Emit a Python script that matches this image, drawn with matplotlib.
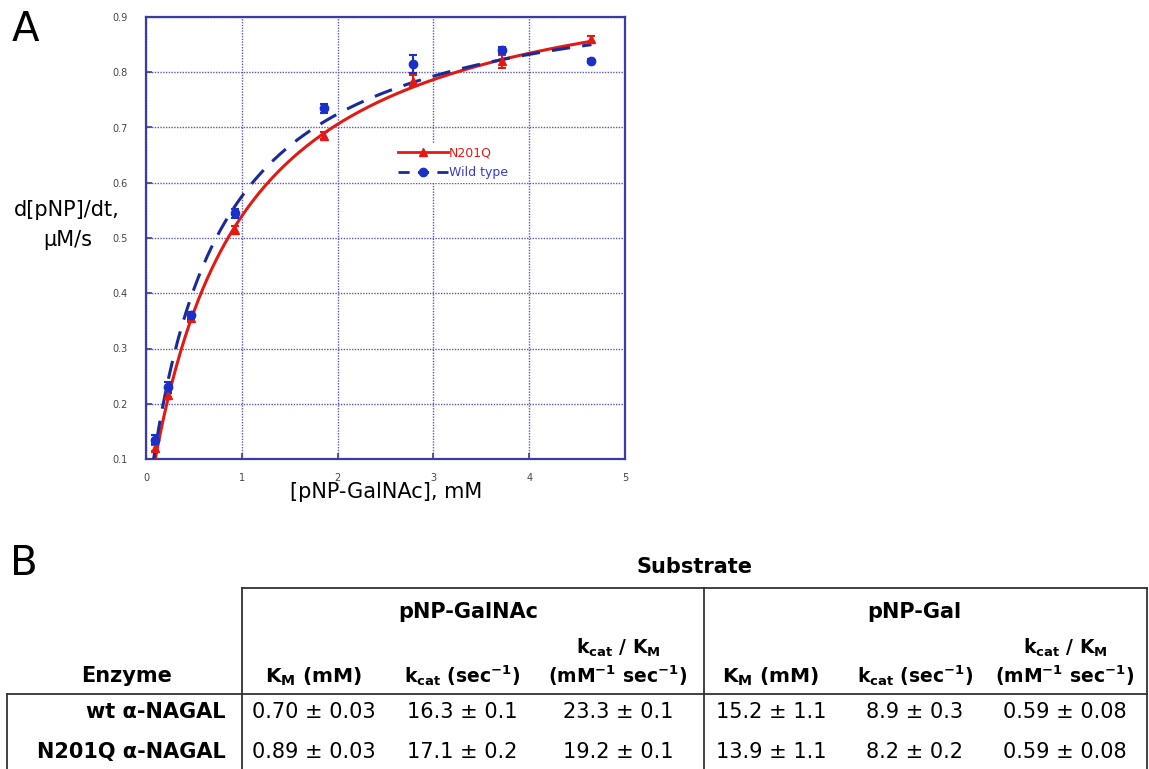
import numpy as np
import matplotlib
matplotlib.use("Agg")
import matplotlib.pyplot as plt
from matplotlib.lines import Line2D

plt.rcParams["font.family"] = ["DejaVu Sans"]
plt.rcParams["mathtext.fontset"] = "dejavusans"

# ---------------------------------------------------------------- data ---
conc = [0.093, 0.233, 0.465, 0.93, 1.86, 2.79, 3.72, 4.65]          # mM
rate_n201q = [0.120, 0.215, 0.355, 0.515, 0.685, 0.785, 0.820, 0.860]
err_n201q = [0.006, 0.006, 0.005, 0.006, 0.006, 0.010, 0.012, 0.005]
rate_wt = [0.135, 0.230, 0.360, 0.545, 0.735, 0.815, 0.840, 0.820]
err_wt = [0.008, 0.010, 0.006, 0.008, 0.008, 0.016, 0.005, 0.004]

# Michaelis-Menten fit parameters (Km from table B, Vmax in uM/s)
km_n201q, vmax_n201q = 0.89, 1.02
km_wt, vmax_wt = 0.70, 0.978

series_names = ["N201Q", "Wild type"]

enzymes = ["wt \u03b1-NAGAL", "N201Q \u03b1-NAGAL"]
substrates = ["pNP-GalNAc", "pNP-Gal"]
head_km = r"$\mathbf{K_M}$ (mM)"
head_kcat = r"$\mathbf{k_{cat}}$ (sec$\mathbf{^{-1}}$)"
head_ratio_top = r"$\mathbf{k_{cat}}$ / $\mathbf{K_M}$"
head_ratio_unit = r"(mM$\mathbf{^{-1}}$ sec$\mathbf{^{-1}}$)"
table_vals = [
    ["0.70 \u00b1 0.03", "16.3 \u00b1 0.1", "23.3 \u00b1 0.1",
     "15.2 \u00b1 1.1", "8.9 \u00b1 0.3", "0.59 \u00b1 0.08"],
    ["0.89 \u00b1 0.03", "17.1 \u00b1 0.2", "19.2 \u00b1 0.1",
     "13.9 \u00b1 1.1", "8.2 \u00b1 0.2", "0.59 \u00b1 0.08"],
]

RED = "#e31a14"
BLUE = "#1a30c8"
NAVY = "#1a2a96"
FRAME = "#3c3ca0"

W, H = 1149, 769
fig = plt.figure(figsize=(W / 100, H / 100), dpi=100)


def fx(x):
    return x / W


def fy(y):
    return 1 - y / H


# ---------------------------------------------------------- panel A ---
ax = fig.add_axes([fx(146), fy(459), fx(625) - fx(146), fy(17) - fy(459)])
xs = np.linspace(0.02, 4.65, 300)
ax.plot(xs, vmax_n201q * xs / (km_n201q + xs), color=RED, lw=2.2, zorder=3)
ax.plot(xs, vmax_wt * xs / (km_wt + xs), color=NAVY, lw=2.2,
        dashes=(6, 4), zorder=3)
ax.errorbar(conc, rate_n201q, yerr=err_n201q, fmt="^", color=RED, ms=6,
            capsize=3, elinewidth=1.5, capthick=1.5, zorder=4)
ax.errorbar(conc, rate_wt, yerr=err_wt, fmt="o", color=BLUE, ms=6,
            capsize=3, elinewidth=1.5, capthick=1.5, zorder=4)

ax.set_xlim(0, 5)
ax.set_ylim(0.1, 0.9)
ax.set_xticks(range(6))
ax.set_yticks(np.arange(0.1, 0.91, 0.1))
ax.set_yticklabels([f"{v:.1f}" for v in np.arange(0.1, 0.91, 0.1)])
ax.grid(True, color="#5a5ab0", ls=(0, (1, 1)), lw=1.0)
ax.tick_params(direction="in", length=4, width=1.2, color=FRAME,
               labelsize=7, labelcolor="#444444")
ax.tick_params(axis="y", pad=13)
ax.tick_params(axis="x", pad=10)
for s in ax.spines.values():
    s.set_color(FRAME)
    s.set_linewidth(1.6)

handles = [Line2D([], [], color=RED, lw=2, marker="^", ms=6),
           Line2D([], [], color=NAVY, lw=2, dashes=(4, 3), marker="o",
                  ms=6, mfc=BLUE, mec=BLUE)]
leg = ax.legend(handles, series_names, loc="upper left",
                bbox_to_anchor=(0.505, 0.73), fontsize=9, handlelength=4.0,
                handletextpad=0.1, labelspacing=0.55, borderpad=0.3,
                frameon=True, fancybox=False, framealpha=1,
                facecolor="white", edgecolor="none")
leg.get_texts()[0].set_color(RED)
leg.get_texts()[1].set_color("#3a3ad0")

fig.text(fx(386), fy(492), "[pNP-GalNAc], mM", ha="center", va="center",
         fontsize=15)
fig.text(fx(67), fy(210), "d[pNP]/dt,", ha="center", va="center", fontsize=15)
fig.text(fx(68), fy(240), "\u03bcM/s", ha="center", va="center", fontsize=15)
fig.text(fx(12), fy(30), "A", ha="left", va="center", fontsize=29)

# ---------------------------------------------------------- panel B ---
fig.text(fx(10), fy(564), "B", ha="left", va="center", fontsize=29)

lc = "#333333"
lw = 1.3
for x0, y0, x1, y1 in [(242, 588, 1147, 588), (242, 588, 242, 769),
                       (704, 588, 704, 769), (1147, 588, 1147, 769),
                       (7, 694, 1147, 694), (7, 694, 7, 769)]:
    fig.add_artist(Line2D([fx(x0), fx(x1)], [fy(y0), fy(y1)], color=lc,
                          lw=lw, transform=fig.transFigure))

fs = 15
hs = 13.5
fig.text(fx(694), fy(567), "Substrate", ha="center", va="center",
         fontsize=fs, fontweight="bold")
for name, xc in zip(substrates, [468, 914]):
    fig.text(fx(xc), fy(612), name, ha="center", va="center",
             fontsize=fs, fontweight="bold")
fig.text(fx(127), fy(682), "Enzyme", ha="center", va="baseline",
         fontsize=fs, fontweight="bold")

col_x = [314, 462, 618, 771, 915, 1065]
for i, xc in enumerate(col_x):
    k = i % 3
    if k == 0:
        fig.text(fx(xc), fy(683), head_km, ha="center", va="baseline",
                 fontsize=14.5, fontweight="bold")
    elif k == 1:
        fig.text(fx(xc), fy(683), head_kcat, ha="center", va="baseline",
                 fontsize=hs, fontweight="bold")
    else:
        fig.text(fx(xc), fy(654), head_ratio_top, ha="center", va="baseline",
                 fontsize=hs, fontweight="bold")
        fig.text(fx(xc), fy(683), head_ratio_unit, ha="center", va="baseline",
                 fontsize=hs, fontweight="bold")

row_y = [712, 752]
for r, (enz, yc) in enumerate(zip(enzymes, row_y)):
    fig.text(fx(226), fy(yc), enz, ha="right", va="center",
             fontsize=fs, fontweight="bold")
    for xc, val in zip(col_x, table_vals[r]):
        fig.text(fx(xc), fy(yc), val, ha="center", va="center", fontsize=fs)

fig.savefig("out.png", dpi=100)
